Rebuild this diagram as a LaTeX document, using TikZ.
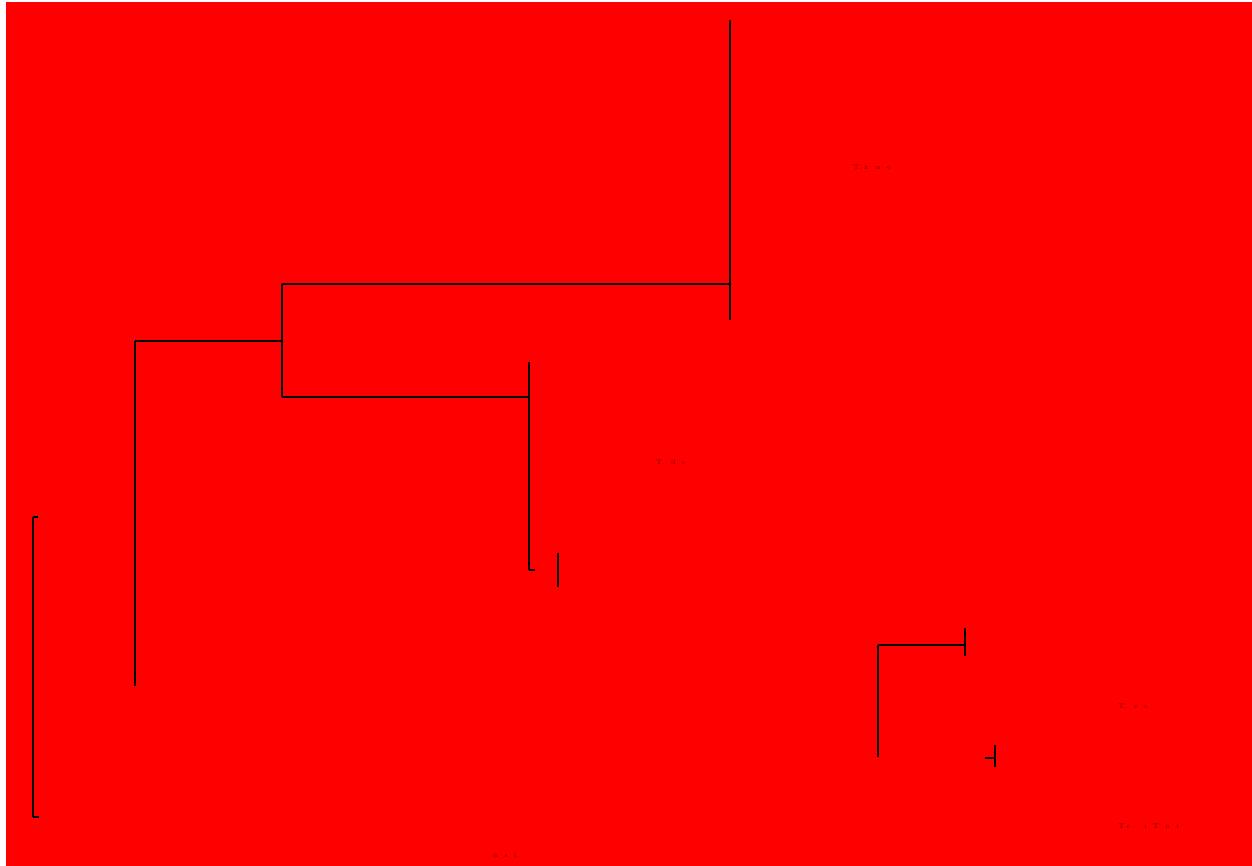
\documentclass[tikz,border=0pt]{standalone}
\tikzset{
  branch/.style={thick,black,line width=1.2pt},
  tiny/.style={inner sep=0pt,font=\fontsize{7}{7}\selectfont,text=black!55!red},
}
\begin{document}
\begin{tikzpicture}[x=1pt,y=-1pt]
    \useasboundingbox (0,0) rectangle (1252,866);
    \fill[red] (6,2) rectangle (1252,866);
    % junction points
    \coordinate (r0) at (33,517);  \coordinate (r1) at (33,817);
    \coordinate (a0) at (135,341); \coordinate (a1) at (135,686);
    \coordinate (b0) at (282,284); \coordinate (b1) at (282,397);
    \coordinate (c0) at (730,20);  \coordinate (c1) at (730,320);
    \coordinate (cj) at (730,284);
    \coordinate (d0) at (529,362); \coordinate (d1) at (529,570);
    \coordinate (dj) at (529,397);
    \coordinate (e0) at (558,553); \coordinate (e1) at (558,587);
    \coordinate (f0) at (878,645); \coordinate (f1) at (878,757);
    \coordinate (g0) at (965,628); \coordinate (g1) at (965,656);
    \coordinate (gj) at (965,645);
    \coordinate (h0) at (995,745); \coordinate (h1) at (995,767);
    % tree lines
    \draw[branch] (r0) -- (r1);
    \draw[branch] (r0) -- ++(5,0);
    \draw[branch] (r1) -- ++(6,0);
    \draw[branch] (a0) -- (a1);
    \draw[branch] (a0) -- (b0 |- a0);
    \draw[branch] (b0) -- (b1);
    \draw[branch] (b0) -- (cj);
    \draw[branch] (c0) -- (c1);
    \draw[branch] (b1) -- (dj);
    \draw[branch] (d0) -- (d1);
    \draw[branch] (d1) -- ++(6,0);
    \draw[branch] (e0) -- (e1);
    \draw[branch] (f0) -- (f1);
    \draw[branch] (f0) -- (gj);
    \draw[branch] (g0) -- (g1);
    \draw[branch] (h0) -- (h1);
    \draw[branch] (985,758) -- (h0 |- 0,758);
    % labels
    \node[tiny] (t1) at (872,167) {T. x \,\, n \, e};
    \node[tiny] (t2) at (671,462) {T. \, d \, e};
    \node[tiny] (t3) at (1133,706) {T. \,\, s \, a};
    \node[tiny] (t4) at (1149,826) {T r . \,\, i \, T \, n \, r};
    \node[tiny] (t5) at (505,855) {n \, s \, i};
\end{tikzpicture}
\end{document}
